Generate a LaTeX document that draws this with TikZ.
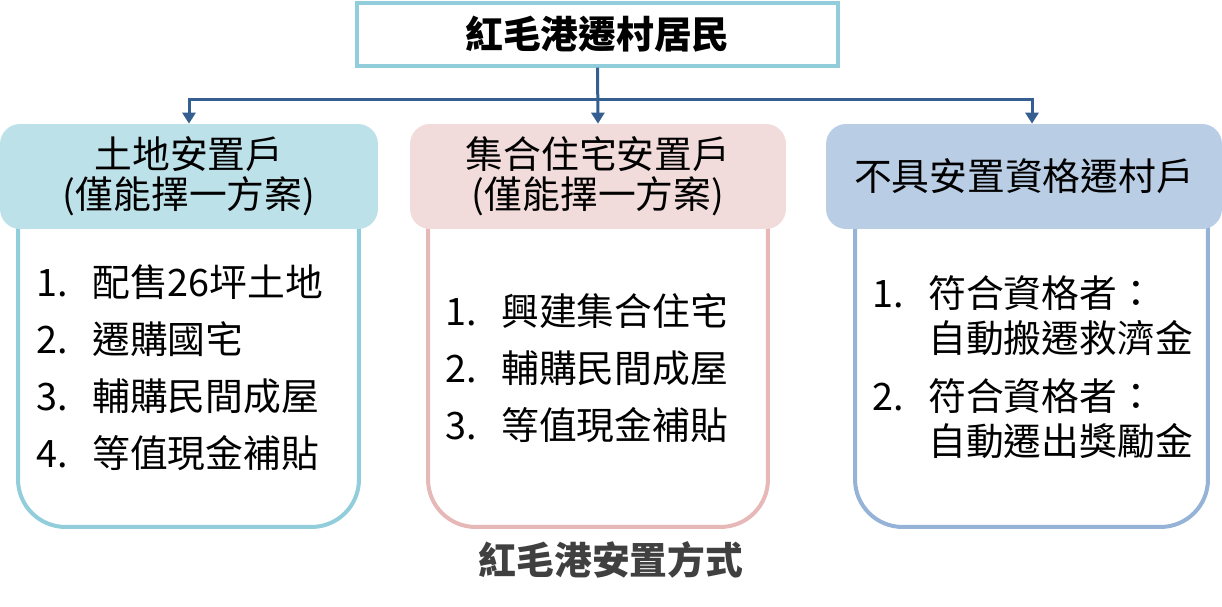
\documentclass[tikz,border=0pt]{standalone}
\usepackage{fontspec}
\setmainfont{Noto Sans CJK TC}
\usepackage{xcolor}
\usepackage{tikz}
\usetikzlibrary{positioning,calc,arrows.meta}

\definecolor{topline}{RGB}{146,205,220}
\definecolor{landfill}{RGB}{189,225,233}
\definecolor{landline}{RGB}{146,205,220}
\definecolor{housefill}{RGB}{242,220,219}
\definecolor{houseline}{RGB}{230,185,184}
\definecolor{nonefill}{RGB}{185,205,229}
\definecolor{noneline}{RGB}{149,179,215}
\definecolor{arrowblue}{RGB}{54,95,145}
\definecolor{captiongray}{RGB}{64,64,64}

\newcommand{\plannum}[1]{\makebox[1.12cm][l]{#1}}

\begin{document}
\begin{tikzpicture}[
    x=0.02cm, y=-0.02cm,
    headbox/.style={rectangle, rounded corners=0.4cm, minimum height=2.1cm, align=center, font=\fontsize{21.5}{23}\selectfont},
    bodybox/.style={rectangle, draw, line width=0.08cm, rounded corners=0.95cm, fill=white, minimum height=7.54cm},
    listtext/.style={anchor=north west, inner sep=0pt, align=left},
    conn/.style={draw=arrowblue, line width=0.06cm, -{Triangle[width=0.26cm,length=0.22cm]}}
]
    \useasboundingbox (0,0) rectangle (1222,607);

    \node[draw=topline, line width=0.07cm, minimum width=9.62cm, minimum height=1.26cm, font=\bfseries\fontsize{21.5}{23}\selectfont] (village) at (597.5,34.5) {紅毛港遷村居民};

    % bodies first, headers on top
    \node[bodybox, draw=landline, minimum width=6.82cm] (landbody) at (188.5,338.5) {};
    \node[bodybox, draw=houseline, minimum width=6.8cm] (housebody) at (598,338.5) {};
    \node[bodybox, draw=noneline, minimum width=7.06cm] (nonebody) at (1031.5,338.5) {};

    \node[headbox, fill=landfill, minimum width=7.56cm] (landhead) at (189,176.5) {土地安置戶\\(僅能擇一方案)};
    \node[headbox, fill=housefill, minimum width=7.52cm] (househead) at (598,176.5) {集合住宅安置戶\\(僅能擇一方案)};
    \node[headbox, fill=nonefill, minimum width=7.92cm] (nonehead) at (1024,176.5) {不具安置資格遷村戶};

    \coordinate (split) at (598,100);
    \draw[conn] (village.south) -- (househead.north);
    \draw[conn] (split) -| (landhead.north);
    \draw[conn] (split) -| ($(nonehead.north)+(8,0)$);

    \node[listtext, font=\fontsize{21.5}{32.6}\selectfont] (landlist) at (36,264) {\plannum{1.}配售26坪土地\\\plannum{2.}遷購國宅\\\plannum{3.}輔購民間成屋\\\plannum{4.}等值現金補貼};
    \node[listtext, font=\fontsize{21.5}{32.6}\selectfont] (houselist) at (445,293) {\plannum{1.}興建集合住宅\\\plannum{2.}輔購民間成屋\\\plannum{3.}等值現金補貼};
    \node[listtext, font=\fontsize{21.5}{25.5}\selectfont] (nonelist) at (872,275) {\plannum{1.}符合資格者：\\\plannum{}自動搬遷救濟金\\[0.28cm]\plannum{2.}符合資格者：\\\plannum{}自動遷出獎勵金};

    \node[font=\bfseries\fontsize{21.5}{23}\selectfont, text=captiongray] (caption) at (611,560) {紅毛港安置方式};
\end{tikzpicture}
\end{document}
